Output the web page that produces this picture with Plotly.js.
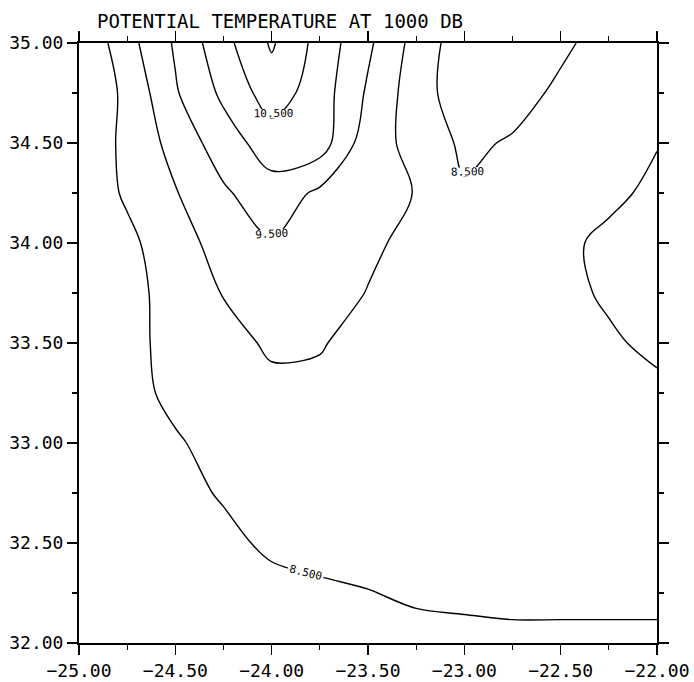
<!DOCTYPE html>
<html>
<head>
<meta charset="utf-8">
<script src="https://cdn.plot.ly/plotly-3.0.1.min.js"></script>
<style>html,body{margin:0;padding:0;background:#fff;}#chart{width:694px;height:682px;}</style>
</head>
<body>
<div id="chart"></div>
<script>
// Longitude grid (x) and latitude grid (y)
const lon = [-25, -24.75, -24.5, -24.25, -24, -23.75, -23.5, -23.25, -23, -22.75, -22.5, -22.25, -22];
const lat = [32, 32.25, 32.5, 32.75, 33, 33.25, 33.5, 33.75, 34, 34.25, 34.5, 34.75, 35];

// Potential temperature at 1000 dbar, rows from lat 32.00 up to 35.00 (estimated from the contours)
const row3200 = [8.15, 8.20, 8.23, 8.27, 8.30, 8.34, 8.38, 8.41, 8.42, 8.43, 8.43, 8.43, 8.43];
const row3225 = [8.20, 8.25, 8.28, 8.33, 8.40, 8.45, 8.49, 8.54, 8.56, 8.58, 8.58, 8.58, 8.58];
const row3250 = [8.25, 8.30, 8.35, 8.42, 8.56, 8.60, 8.62, 8.62, 8.62, 8.62, 8.62, 8.62, 8.62];
const row3275 = [8.28, 8.33, 8.40, 8.53, 8.62, 8.68, 8.68, 8.66, 8.65, 8.65, 8.66, 8.68, 8.70];
const row3300 = [8.30, 8.38, 8.47, 8.60, 8.72, 8.78, 8.75, 8.70, 8.68, 8.68, 8.70, 8.75, 8.80];
const row3325 = [8.30, 8.40, 8.57, 8.75, 8.90, 8.90, 8.80, 8.72, 8.70, 8.72, 8.78, 8.85, 8.92];
const row3350 = [8.30, 8.39, 8.62, 8.86, 9.06, 9.03, 8.85, 8.75, 8.72, 8.75, 8.85, 8.95, 9.08];
const row3375 = [8.30, 8.35, 8.68, 9.02, 9.30, 9.25, 8.98, 8.80, 8.75, 8.78, 8.90, 9.05, 9.20];
const row3400 = [8.25, 8.40, 8.76, 9.22, 9.46, 9.35, 9.10, 8.85, 8.70, 8.75, 8.90, 9.10, 9.25];
const row3425 = [8.20, 8.56, 8.97, 9.43, 9.80, 9.40, 9.22, 8.98, 8.55, 8.65, 8.75, 8.90, 9.10];
const row3450 = [8.15, 8.61, 9.17, 9.76, 10.25, 10.25, 9.20, 8.86, 8.40, 8.55, 8.70, 8.85, 8.98];
const row3475 = [8.10, 8.60, 9.45, 10.10, 10.75, 10.25, 9.43, 8.74, 8.20, 8.30, 8.60, 8.75, 8.88];
const row3500 = [8.02, 8.82, 9.56, 10.34, 11.06, 10.32, 9.59, 8.82, 8.20, 8.25, 8.40, 8.71, 8.85];

const temp = [row3200, row3225, row3250, row3275, row3300, row3325, row3350,
              row3375, row3400, row3425, row3450, row3475, row3500];

const titleText = 'POTENTIAL TEMPERATURE AT 1000 DB';
const monoFont = 'DejaVu Sans Mono, Liberation Mono, monospace';

const common = {
  type: 'contour', x: lon, y: lat, z: temp,
  coloring: 'lines', showscale: false,
  colorscale: [[0, '#000'], [1, '#000']],
  line: {width: 1.4, smoothing: 1.0},
  hoverinfo: 'skip'
};

const labelled = Object.assign({}, common, {
  contours: {start: 8.5, end: 10.5, size: 1, coloring: 'lines', showlabels: true,
             labelformat: '.3f', labelfont: {family: monoFont, size: 11, color: '#000'}}
});
const unlabelled = Object.assign({}, common, {
  contours: {start: 9.0, end: 11.0, size: 1, coloring: 'lines', showlabels: false}
});

const axisCommon = {
  showgrid: false, zeroline: false, showline: true, linecolor: '#000', linewidth: 2,
  mirror: 'allticks', ticks: 'outside', ticklen: 10, tickwidth: 1.5, tickcolor: '#000',
  tickformat: '.2f', dtick: 0.5,
  tickfont: {family: monoFont, size: 18, color: '#000'},
  minor: {dtick: 0.25, ticks: 'outside', ticklen: 5, tickwidth: 1.2, tickcolor: '#000', showgrid: false}
};

const layout = {
  width: 694, height: 682,
  margin: {l: 79, r: 37, t: 43, b: 39},
  paper_bgcolor: '#fff', plot_bgcolor: '#fff',
  showlegend: false,
  title: {text: titleText, font: {family: monoFont, size: 19, color: '#000'},
          xref: 'container', yref: 'container', x: 97/694, xanchor: 'left', y: 1 - 21/682, yanchor: 'middle'},
  xaxis: Object.assign({}, axisCommon, {range: [-25, -22], tick0: -25}),
  yaxis: Object.assign({}, axisCommon, {range: [32, 35], tick0: 32})
};

Plotly.newPlot('chart', [unlabelled, labelled], layout, {displayModeBar: false, staticPlot: true});
</script>
</body>
</html>
